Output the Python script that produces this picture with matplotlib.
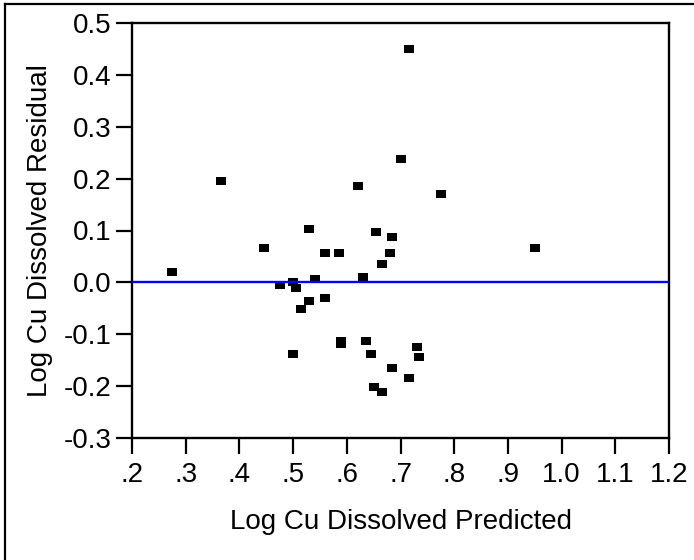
import matplotlib
matplotlib.use("Agg")
import matplotlib.pyplot as plt
from matplotlib.lines import Line2D

# Data
predicted = [0.275, 0.365, 0.445, 0.475, 0.500, 0.505, 0.500, 0.515, 0.530, 0.530,
             0.540, 0.560, 0.560, 0.585, 0.589, 0.589, 0.620, 0.630, 0.635, 0.645,
             0.650, 0.655, 0.665, 0.665, 0.680, 0.685, 0.685, 0.700, 0.715, 0.715,
             0.730, 0.734, 0.775, 0.950]
residual = [0.020, 0.196, 0.067, -0.005, 0.000, -0.010, -0.139, -0.052, 0.103, -0.036,
            0.006, 0.057, -0.031, 0.057, -0.113, -0.119, 0.185, 0.010, -0.113, -0.139,
            -0.201, 0.098, 0.036, -0.211, 0.057, 0.088, -0.165, 0.237, 0.449, -0.185,
            -0.124, -0.144, 0.170, 0.067]

x_ticks = [0.2, 0.3, 0.4, 0.5, 0.6, 0.7, 0.8, 0.9, 1.0, 1.1, 1.2]
x_tick_labels = [".2", ".3", ".4", ".5", ".6", ".7", ".8", ".9", "1.0", "1.1", "1.2"]
y_ticks = [0.5, 0.4, 0.3, 0.2, 0.1, 0.0, -0.1, -0.2, -0.3]
y_tick_labels = ["0.5", "0.4", "0.3", "0.2", "0.1", "0.0", "-0.1", "-0.2", "-0.3"]

x_label = "Log Cu Dissolved Predicted"
y_label = "Log Cu Dissolved Residual"

plt.rcParams['font.family'] = ['Liberation Sans', 'DejaVu Sans']

W, H = 694, 560
fig = plt.figure(figsize=(W / 100, H / 100), dpi=100)
left, right, top, bottom = 132, 669, 23, 438
ax = fig.add_axes([left / W, 1 - bottom / H, (right - left) / W, (bottom - top) / H])

# horizontally stretched square marker like the reference
marker = [(-1.2, -1), (1.2, -1), (1.2, 1), (-1.2, 1), (-1.2, -1)]
ax.plot(predicted, residual, linestyle='none', marker=marker, markersize=7.5,
        color='black', markeredgewidth=0, zorder=2)
ax.axhline(0.0, color='#0000ff', linewidth=1.7, zorder=3)

ax.set_xlim(0.2, 1.2)
ax.set_ylim(-0.3, 0.5)
ax.set_xticks(x_ticks)
ax.set_xticklabels(x_tick_labels)
ax.set_yticks(y_ticks)
ax.set_yticklabels(y_tick_labels)

ax.tick_params(axis='both', direction='out', length=11.5, width=1.6, labelsize=20,
               colors='black')
ax.tick_params(axis='x', pad=6)
ax.tick_params(axis='y', pad=3)
for sp in ax.spines.values():
    sp.set_linewidth(1.7)
    sp.set_color('black')

ax.set_xlabel(x_label, fontsize=20, labelpad=15)
ax.set_ylabel(y_label, fontsize=20, labelpad=8)

# outer frame (only top and left edges visible in the reference)
fig.add_artist(Line2D([5 / W, 1.0], [1 - 4 / H, 1 - 4 / H], transform=fig.transFigure,
                      color='black', linewidth=1.6))
fig.add_artist(Line2D([5 / W, 5 / W], [0.0, 1 - 4 / H], transform=fig.transFigure,
                      color='black', linewidth=1.6))

fig.savefig("out.png", dpi=100)
